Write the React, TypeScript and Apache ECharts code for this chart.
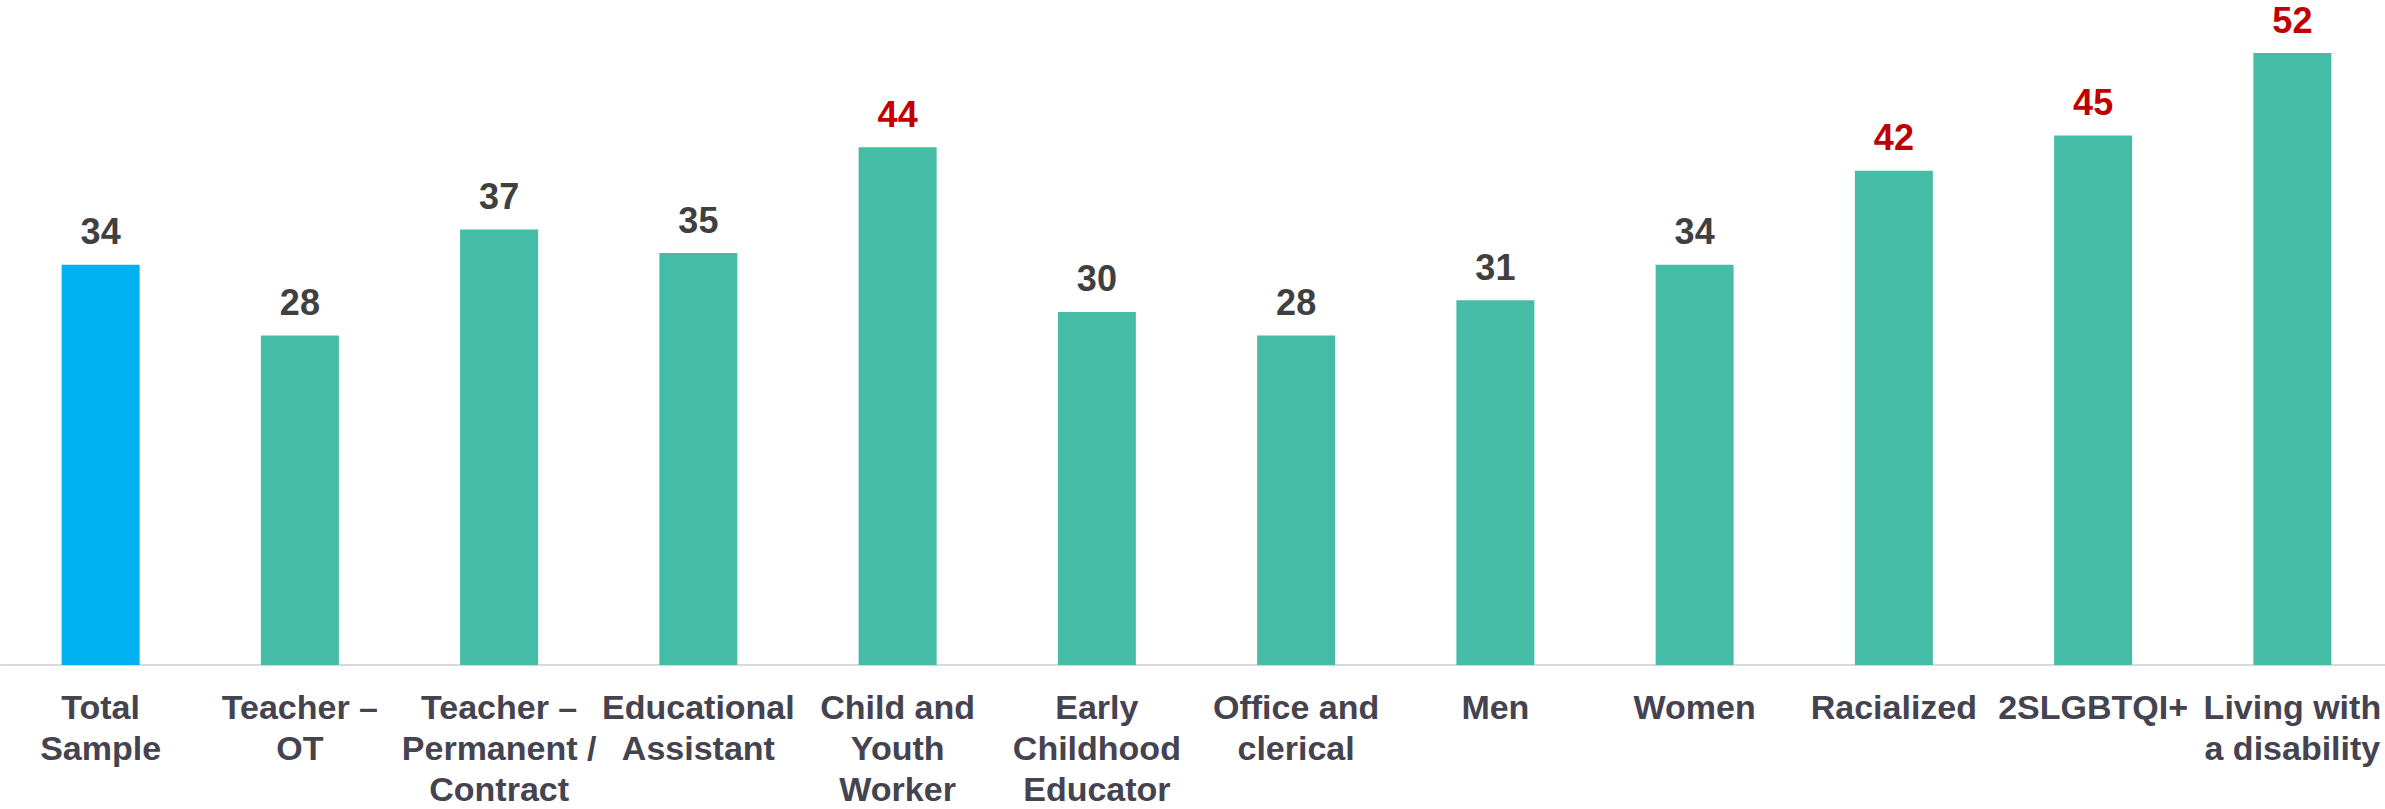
import React, { useEffect, useRef } from "react";
import * as echarts from "echarts";

const categories = [
  "Total\nSample",
  "Teacher –\nOT",
  "Teacher –\nPermanent /\nContract",
  "Educational\nAssistant",
  "Child and\nYouth\nWorker",
  "Early\nChildhood\nEducator",
  "Office and\nclerical",
  "Men",
  "Women",
  "Racialized",
  "2SLGBTQI+",
  "Living with\na disability",
];
const values = [34, 28, 37, 35, 44, 30, 28, 31, 34, 42, 45, 52];
const significant = [false, false, false, false, true, false, false, false, false, true, true, true];
const isTotal = [true, false, false, false, false, false, false, false, false, false, false, false];

export default function App() {
  const ref = useRef<HTMLDivElement>(null);
  useEffect(() => {
    if (!ref.current) return;
    const chart = echarts.init(ref.current, null, { renderer: "svg" });
    const data = values.map((v, i) => ({
      value: v,
      itemStyle: { color: isTotal[i] ? "#00b0f0" : "#45bda6" },
      label: { color: significant[i] ? "#c00000" : "#404040" },
    }));
    chart.setOption({
      animation: false,
      grid: {
        left: 1,
        right: 8,
        top: 53,
        bottom: 144,
        containLabel: false,
        outerBoundsMode: "none",
      },
      xAxis: {
        type: "category",
        data: categories,
        axisTick: { show: false },
        axisLine: { lineStyle: { color: "#d9d9d9", width: 2 } },
        axisLabel: {
          interval: 0,
          margin: 21,
          fontFamily: "Liberation Sans, Arial, sans-serif",
          fontWeight: "bold",
          fontSize: 34,
          lineHeight: 41,
          color: "#44434f",
        },
      },
      yAxis: {
        type: "value",
        min: 0,
        max: 52,
        show: false,
        splitLine: { show: false },
      },
      series: [
        {
          type: "bar",
          data,
          barWidth: 78,
          label: {
            show: true,
            position: "top",
            distance: 15,
            fontFamily: "Liberation Sans, Arial, sans-serif",
            fontWeight: "bold",
            fontSize: 36,
          },
        },
      ],
    });
    return () => chart.dispose();
  }, []);
  return (
    <div
      style={{ position: "fixed", left: 0, top: 0, width: 2385, height: 809, overflow: "hidden", background: "#fff" }}
    >
      <div ref={ref} style={{ width: 2400, height: 809 }} />
    </div>
  );
}
